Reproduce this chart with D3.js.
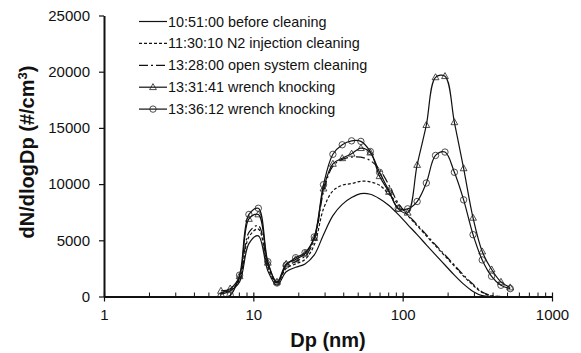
<!DOCTYPE html>
<html><head><meta charset="utf-8">
<script src="https://cdn.jsdelivr.net/npm/d3@7"></script>
<style>body{margin:0;background:#fff} svg text{font-family:"Liberation Sans",Arial,sans-serif;fill:#111}</style>
</head><body><svg id="c" width="581" height="353"></svg>
<script>
const diameters = [6.07, 7.0, 8.09, 9.34, 10.8, 12.5, 14.4, 16.6, 19.2, 22.2, 25.6, 29.5, 34.1, 39.4, 45.5, 52.5, 60.7, 70.0, 81.0, 93.4, 108, 125, 144, 166, 192, 222, 256, 296, 341, 394, 455, 525];
const beforeCleaning = [200, 500, 1300, 4700, 5400, 2300, 1000, 2200, 2600, 2900, 3700, 5500, 7200, 8200, 8800, 9150, 9100, 8700, 8100, 7300, 6400, 5500, 4600, 3700, 2800, 1900, 1100, 450, 80, 0, 0, 0];
const n2Injection = [300, 600, 1500, 5300, 6000, 2600, 1150, 2500, 2900, 3300, 4600, 7800, 9400, 9900, 10050, 10250, 10200, 9900, 9100, 8200, 7200, 6300, 5400, 4500, 3600, 2700, 1800, 1000, 350, 50, 0, 0];
const openSystem = [300, 700, 1600, 5700, 6300, 2800, 1250, 2700, 3100, 3600, 5000, 9300, 11600, 12200, 12400, 12400, 12100, 11300, 9900, 8300, 7300, 6400, 5500, 4600, 3700, 2800, 1900, 1100, 400, 80, 0, 0];
const wrench1 = [500, 700, 1800, 6900, 7300, 3000, 1300, 2900, 3300, 3800, 5200, 9600, 11800, 12300, 12700, 13200, 12800, 10700, 9300, 7800, 7450, 11700, 15250, 19500, 19600, 15500, 11400, 7000, 4000, 2400, 1300, 800];
const wrench2 = [0, 100, 1900, 7300, 7850, 3100, 1200, 2800, 3450, 3900, 5300, 9950, 12650, 13500, 13850, 13800, 12900, 11050, 9400, 7850, 7800, 8450, 10100, 12550, 12850, 11050, 8600, 5500, 3250, 1800, 1000, 700];
const seriesNames = ["10:51:00 before cleaning", "11:30:10 N2 injection cleaning", "13:28:00 open system cleaning", "13:31:41 wrench knocking", "13:36:12 wrench knocking"];
const yTicks = [0, 5000, 10000, 15000, 20000, 25000];
const xTicks = [1, 10, 100, 1000];
const xTitle = "Dp (nm)";

const seriesValues = [beforeCleaning, n2Injection, openSystem, wrench1, wrench2];
const dashes = [null, "3,2", "9,3,2,3", null, null];
const markers = [null, null, null, "tri", "circ"];

const svg = d3.select("#c");
const x = d3.scaleLog().domain([1, 1000]).range([104, 552]);
const y = d3.scaleLinear().domain([0, 25000]).range([296.5, 15.5]);

svg.append("defs").append("clipPath").attr("id", "clip")
  .append("rect").attr("x", 104).attr("y", 0).attr("width", 460).attr("height", 296.5);

const line = d3.line().x(d => x(d[0])).y(d => y(d[1])).curve(d3.curveCatmullRom.alpha(0.5));

const plot = svg.append("g").attr("clip-path", "url(#clip)");
const triPath = "M0,-3.6L3.4,2.4L-3.4,2.4Z";

function drawMarker(g, type, cx, cy) {
  if (type === "tri") {
    g.append("path").attr("d", triPath).attr("transform", `translate(${cx},${cy})`)
      .attr("fill", "none").attr("stroke", "#222").attr("stroke-width", 0.8);
  } else if (type === "circ") {
    g.append("circle").attr("cx", cx).attr("cy", cy).attr("r", 3.2)
      .attr("fill", "none").attr("stroke", "#222").attr("stroke-width", 0.8);
  }
}

seriesValues.forEach((vals, i) => {
  const pts = diameters.map((d, j) => [d, vals[j]]);
  plot.append("path").attr("d", line(pts)).attr("fill", "none")
    .attr("stroke", "#111").attr("stroke-width", 1.2)
    .attr("stroke-dasharray", dashes[i]);
  if (markers[i]) {
    const mg = plot.append("g");
    pts.forEach(p => drawMarker(mg, markers[i], x(p[0]), y(p[1])));
  }
});

// Axes
const yAxis = svg.append("g").attr("transform", "translate(104,0)")
  .call(d3.axisLeft(y).tickValues(yTicks).tickFormat(d3.format("d")).tickSize(5).tickSizeOuter(0));
yAxis.select(".domain").attr("stroke", "#111").attr("stroke-width", 2);
yAxis.selectAll(".tick line").attr("stroke", "#111").attr("stroke-width", 1.2);
yAxis.selectAll(".tick text").attr("font-size", 15).attr("x", -14);

const minor = [];
[1, 10, 100].forEach(b => { for (let k = 2; k <= 9; k++) minor.push(b * k); });
const xMinor = svg.append("g").attr("transform", "translate(0,296.5)")
  .call(d3.axisBottom(x).tickValues(minor).tickFormat("").tickSize(-4).tickSizeOuter(0));
xMinor.select(".domain").remove();
xMinor.selectAll(".tick line").attr("stroke", "#111").attr("stroke-width", 1);

const xAxis = svg.append("g").attr("transform", "translate(0,296.5)")
  .call(d3.axisBottom(x).tickValues(xTicks).tickFormat(d3.format("d")).tickSize(5).tickSizeOuter(0));
xAxis.select(".domain").attr("stroke", "#111").attr("stroke-width", 2);
xAxis.selectAll(".tick line").attr("stroke", "#111").attr("stroke-width", 1.2).attr("y1", -4);
xAxis.selectAll(".tick text").attr("font-size", 15).attr("y", 13);

// Titles
svg.append("text").attr("x", 328).attr("y", 347).attr("text-anchor", "middle")
  .attr("font-size", 20).attr("font-weight", "bold").text(xTitle);
const yt = svg.append("text").attr("transform", "translate(34,152) rotate(-90)")
  .attr("text-anchor", "middle").attr("font-size", 20).attr("font-weight", "bold");
yt.append("tspan").text("dN/dlogDp (#/cm");
yt.append("tspan").attr("dy", -7).attr("font-size", 13).text("3");
yt.append("tspan").attr("dy", 7).text(")");

// Legend
const lg = svg.append("g");
seriesNames.forEach((name, i) => {
  const ly = 21.5 + i * 21.9;
  lg.append("line").attr("x1", 139).attr("x2", 167).attr("y1", ly).attr("y2", ly)
    .attr("stroke", "#111").attr("stroke-width", 1.2).attr("stroke-dasharray", dashes[i]);
  if (markers[i]) drawMarker(lg, markers[i], 153, ly);
  lg.append("text").attr("x", 168).attr("y", ly).attr("dy", "0.35em")
    .attr("font-size", 14.4).text(name);
});
</script></body></html>
